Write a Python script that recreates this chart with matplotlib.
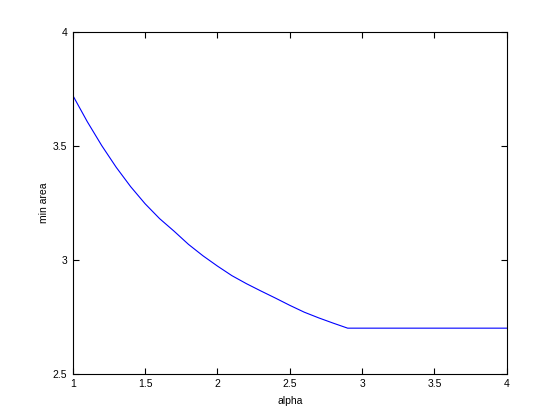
import matplotlib
matplotlib.use("Agg")
import matplotlib.pyplot as plt

# min area vs alpha
alpha = [1.0, 1.1, 1.2, 1.3, 1.4, 1.5, 1.6, 1.7, 1.8, 1.9, 2.0,
         2.1, 2.2, 2.3, 2.4, 2.5, 2.6, 2.7, 2.8, 2.9, 4.0]
min_area = [3.72, 3.605, 3.50, 3.405, 3.32, 3.245, 3.18, 3.125, 3.067, 3.017, 2.972,
            2.93, 2.895, 2.863, 2.832, 2.80, 2.77, 2.745, 2.722, 2.70, 2.70]

xticks = [1, 1.5, 2, 2.5, 3, 3.5, 4]
yticks = [2.5, 3, 3.5, 4]

plt.rcParams["font.family"] = ["Liberation Sans", "DejaVu Sans"]

fig = plt.figure(figsize=(5.6, 4.2), dpi=100)
ax = fig.add_axes([0.13, 0.11, 0.775, 0.815])
ax.plot(alpha, min_area, color="blue", linewidth=0.8)
ax.set_xlim(1, 4)
ax.set_ylim(2.5, 4)
ax.set_xticks(xticks)
ax.set_xticklabels(["1", "1.5", "2", "2.5", "3", "3.5", "4"])
ax.set_yticks(yticks)
ax.set_yticklabels(["2.5", "3", "3.5", "4"])
ax.tick_params(direction="in", top=True, right=True, length=4, width=0.8,
               labelsize=7.5, pad=4)
for s in ax.spines.values():
    s.set_linewidth(0.8)
ax.set_xlabel("alpha", fontsize=7.5, labelpad=5)
ax.set_ylabel("min area", fontsize=7.5, labelpad=3)

fig.savefig("out.png", dpi=100)
